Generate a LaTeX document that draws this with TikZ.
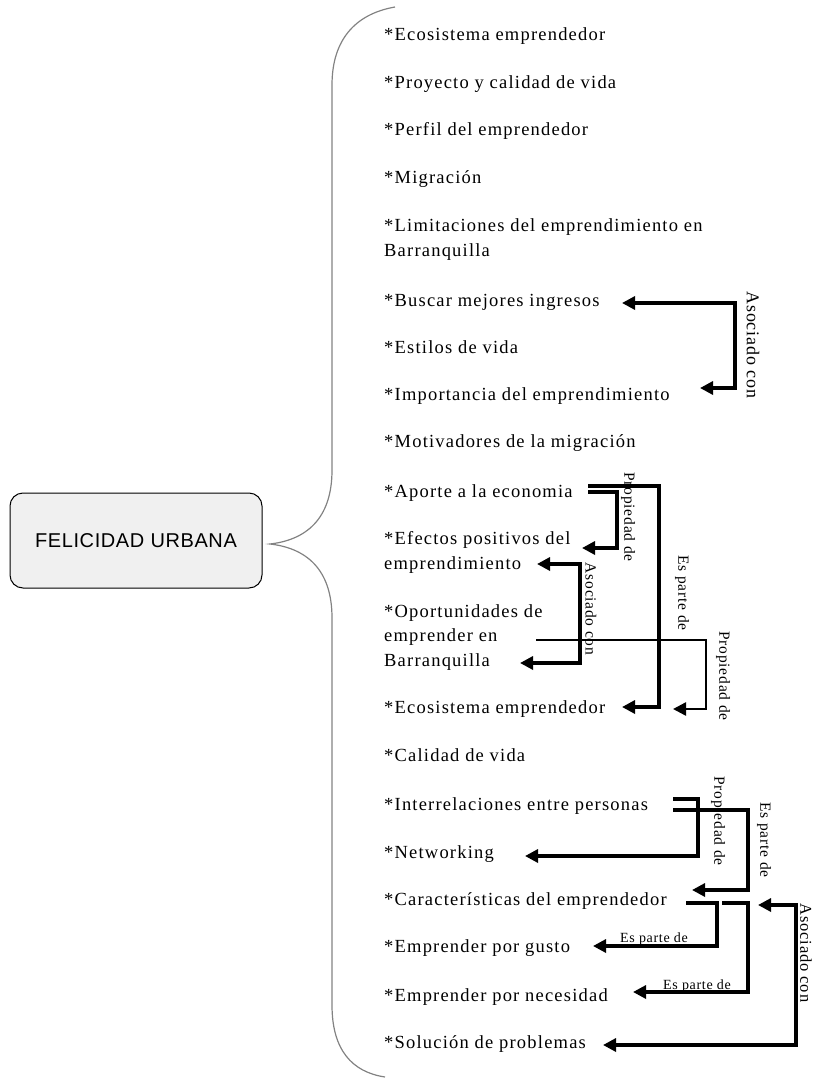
\documentclass[tikz,border=0pt]{standalone}
\usepackage{fontspec}
\usetikzlibrary{arrows.meta}
\newfontfamily\itemfont{Liberation Serif}[LetterSpace=6.5]
\newfontfamily\lblfont{Liberation Serif}[LetterSpace=5]
\newfontfamily\hubfont{Liberation Sans}[LetterSpace=3]
\definecolor{hubfill}{RGB}{240,240,240}
\definecolor{bracegray}{RGB}{130,130,130}
\tikzset{
  item/.style={anchor=base west, inner sep=0pt, align=left,
    font=\itemfont\fontsize{18.5}{24.5}\selectfont},
  hubbox/.style={draw=black, line width=1pt, fill=hubfill, rounded corners=13pt,
    minimum width=252pt, minimum height=95pt, inner sep=0pt,
    font=\hubfont\fontsize{20}{24}\selectfont},
  conn/.style={draw=black, line width=3.2pt},
  tipend/.style={-{Triangle[length=13pt,width=13pt]}},
  tipboth/.style={{Triangle[length=13pt,width=13pt]}-{Triangle[length=13pt,width=13pt]}},
  vlbl/.style={rotate=-90, inner sep=0pt, font=\lblfont\fontsize{15.5}{18}\selectfont},
  hlbl/.style={anchor=base, inner sep=0pt, font=\lblfont\fontsize{14}{16}\selectfont},
  bracepath/.style={draw=bracegray, line width=1.2pt}
}
\begin{document}
\begin{tikzpicture}[x=1pt,y=-1pt]
\useasboundingbox (0,0) rectangle (815,1078);

% hub
\node[hubbox] (hub) at (136,540.5) {FELICIDAD URBANA};

% brace
\coordinate (bt) at (270,544);
\draw[bracepath] (395,7) .. controls (355,14) and (332,40) .. (332,85)
  -- (332,470) .. controls (332,520) and (305,540) .. (bt)
  .. controls (305,548) and (332,568) .. (332,618)
  -- (332,1005) .. controls (332,1050) and (352,1072) .. (385,1077);

% items (multi-line nodes are placed by the baseline of their last line)
\node[item] (e1) at (384,41) {*Ecosistema emprendedor};
\node[item] (e2) at (384,89) {*Proyecto y calidad de vida};
\node[item] (e3) at (384,136) {*Perfil del emprendedor};
\node[item] (e4) at (384,184) {*Migración};
\node[item] (e5) at (384,256) {*Limitaciones del emprendimiento en\\Barranquilla};
\node[item] (e6) at (384,306) {*Buscar mejores ingresos};
\node[item] (e7) at (384,353) {*Estilos de vida};
\node[item] (e8) at (384,400) {*Importancia del emprendimiento};
\node[item] (e9) at (384,447) {*Motivadores de la migración};
\node[item] (e10) at (384,497) {*Aporte a la economia};
\node[item] (e11) at (384,569) {*Efectos positivos del\\emprendimiento};
\node[item] (e12) at (384,666) {*Oportunidades de\\emprender en\\Barranquilla};
\node[item] (e13) at (384,713) {*Ecosistema emprendedor};
\node[item] (e14) at (384,761) {*Calidad de vida};
\node[item] (e15) at (384,810) {*Interrelaciones entre personas};
\node[item] (e16) at (384,858) {*Networking};
\node[item] (e17) at (384,905) {*Características del emprendedor};
\node[item] (e18) at (384,952) {*Emprender por gusto};
\node[item] (e19) at (384,1001) {*Emprender por necesidad};
\node[item] (e20) at (384,1048) {*Solución de problemas};

% connector end points
\coordinate (t6) at (622,303);
\coordinate (t8) at (700,388);
\coordinate (s10a) at (588,486);
\coordinate (s10b) at (588,492);
\coordinate (t11a) at (582,548);
\coordinate (t11b) at (537,564);
\coordinate (t12) at (520,663);
\coordinate (s12) at (536,640);
\coordinate (t13a) at (622,707);
\coordinate (t13b) at (673,709);
\coordinate (s15a) at (673,799);
\coordinate (s15b) at (673,810);
\coordinate (t16) at (525,856);
\coordinate (t17) at (692,890);
\coordinate (s17a) at (686,903);
\coordinate (s17b) at (722,903);
\coordinate (t17c) at (758,905);
\coordinate (t18) at (593,946);
\coordinate (t19) at (633,992);
\coordinate (t20) at (603,1045);

% connectors
\draw[conn,tipboth] (t6) -- (735,303) |- (t8);
\draw[conn,tipend] (s10a) -| (659,707) -- (t13a);
\draw[conn,tipend] (s10b) -| (617,548) -- (t11a);
\draw[conn,tipboth] (t11b) -| (580,663) -- (t12);
\draw[conn,tipend,line width=2.4pt] (s12) -| (706,709) -- (t13b);
\draw[conn,tipend] (s15a) -| (698,856) -- (t16);
\draw[conn,tipend] (s15b) -| (748,890) -- (t17);
\draw[conn,tipend] (s17a) -| (717,946) -- (t18);
\draw[conn,tipend] (s17b) -| (748,992) -- (t19);
\draw[conn,tipboth] (t17c) -| (796,1045) -- (t20);

% labels
\node[vlbl, font=\lblfont\fontsize{18}{20}\selectfont] (l1) at (753,345) {Asociado con};
\node[vlbl] (l2) at (628,517) {Propiedad de};
\node[vlbl] (l3) at (682,593) {Es parte de};
\node[vlbl] (l4) at (591,609) {Asociado con};
\node[vlbl] (l5) at (723,676) {Propiedad de};
\node[vlbl] (l6) at (718,821) {Propiedad de};
\node[vlbl] (l7) at (764,840) {Es parte de};
\node[vlbl, font=\lblfont\fontsize{16.5}{20}\selectfont] (l8) at (806,953) {Asociado con};
\node[hlbl] (l9) at (654,942) {Es parte de};
\node[hlbl] (l10) at (697,989) {Es parte de};
\end{tikzpicture}
\end{document}
